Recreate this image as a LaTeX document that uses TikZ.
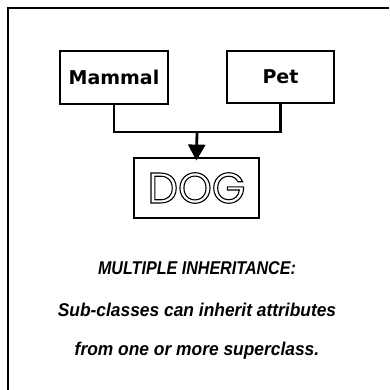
\documentclass[tikz,border=0pt]{standalone}
\usepackage{fontspec}
\usetikzlibrary{arrows.meta}
\setmainfont{Liberation Sans}
\newfontfamily\boxfont{DejaVu Sans}
\newfontfamily\dogfont{Poppins}
\newfontfamily\capfont[FakeStretch=0.87]{Liberation Sans}
\newfontfamily\bodyfont[FakeStretch=0.94]{Liberation Sans}
% outline (stroke only) text rendering
\newcommand{\outlinetext}[1]{\special{pdf:literal direct 1 Tr 1.1 w}#1\special{pdf:literal direct 0 Tr}}
\begin{document}
\begin{tikzpicture}[x=1pt,y=1pt,
  classbox/.style={draw, line width=2.8pt, rectangle, inner sep=0pt},
  classlabel/.style={font=\boxfont\bfseries\fontsize{19}{22}\selectfont},
  link/.style={line width=2.8pt},
  caption/.style={font=\capfont\bfseries\itshape\fontsize{18.5}{21}\selectfont, inner sep=0pt},
  body/.style={font=\bodyfont\bfseries\itshape\fontsize{18.5}{21}\selectfont, inner sep=0pt}]
  \useasboundingbox (0,0) rectangle (389,390);
  % frame (top and left edges)
  \draw[line width=2.4pt] (8,0) -- (8,382) -- (389,382);
  % classes
  \node[classbox, classlabel, minimum width=108pt, minimum height=53pt] (mammal) at (114,312.5) {Mammal};
  \node[classbox, classlabel, minimum width=107pt, minimum height=52pt] (pet) at (280.5,313) {Pet};
  \node[classbox, minimum width=125pt, minimum height=60pt,
        font=\dogfont\fontsize{43}{46}\selectfont] (dog) at (196.5,202) {\outlinetext{DOG}};
  % inheritance connector
  \coordinate (join) at (197,258);
  \draw[link] (mammal.south) |- (join) -| (pet.south);
  \draw[link, -{Triangle[width=17pt,length=16pt]}, shorten >=-4pt] (join) -- (dog.north);
  % caption
  \node[caption] (c1) at (197,122) {MULTIPLE INHERITANCE:};
  \node[body] (c2) at (197,80) {Sub-classes can inherit attributes};
  \node[body] (c3) at (197,39) {from one or more superclass.};
\end{tikzpicture}
\end{document}
